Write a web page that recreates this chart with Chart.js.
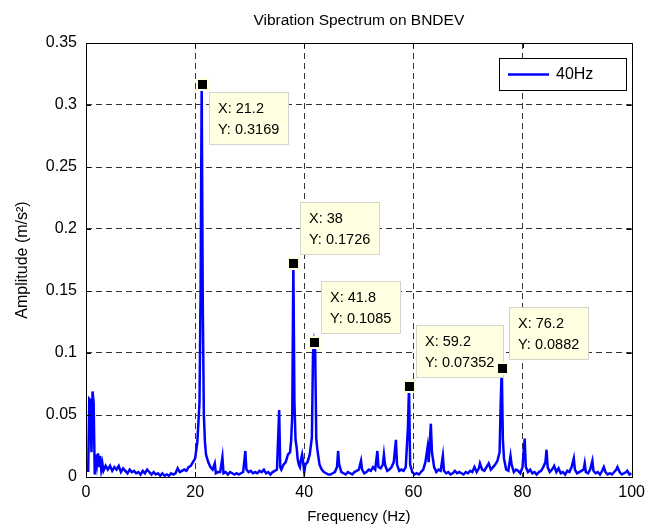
<!DOCTYPE html>
<html>
<head>
<meta charset="utf-8">
<script src="https://cdn.jsdelivr.net/npm/chart.js@4/dist/chart.umd.min.js"></script>
<style>
  body { margin: 0; background: #fff; }
  #wrap { width: 651px; height: 528px; }
</style>
</head>
<body>
<div id="wrap"><canvas id="spec" width="651" height="528"></canvas></div>
<script>
'use strict'

// spectrum (Hz, m/s^2)
var freq = [0.4, 0.6, 0.8, 1.0, 1.2, 1.4, 1.6, 1.8, 2.0, 2.2, 2.4, 2.6, 2.8, 3.0, 3.2, 3.6, 4.0, 4.4, 4.8, 5.2,
  5.6, 6.0, 6.4, 6.8, 7.2, 7.6, 8.0, 8.4, 8.8, 9.2, 9.6, 10.0, 10.4, 10.8, 11.2, 11.6, 12.0, 12.4, 12.8, 13.2,
  13.6, 14.0, 14.4, 14.8, 15.2, 15.6, 16.0, 16.4, 16.8, 17.2, 17.6, 18.0, 18.4, 18.8, 19.2, 19.6, 20.0, 20.4, 20.8, 21.0,
  21.2, 21.4, 21.6, 21.8, 22.0, 22.4, 22.8, 23.2, 23.6, 23.8, 24.2, 24.6, 25.0, 25.2, 25.6, 26.0, 26.4, 26.8, 27.2, 27.6,
  28.0, 28.4, 28.8, 29.2, 29.4, 29.8, 30.2, 30.6, 31.0, 31.4, 31.8, 32.2, 32.6, 33.0, 33.4, 33.8, 34.2, 34.6, 35.0, 35.4,
  35.6, 35.8, 36.2, 36.6, 37.0, 37.4, 37.6, 37.8, 38.0, 38.2, 38.4, 38.6, 38.8, 39.0, 39.2, 39.4, 39.6, 39.8, 40.0, 40.2,
  40.6, 41.0, 41.4, 41.6, 41.8, 42.0, 42.2, 42.4, 42.8, 43.2, 43.6, 44.0, 44.4, 44.8, 45.2, 45.6, 46.0, 46.2, 46.4, 46.8,
  47.2, 47.6, 48.0, 48.4, 48.8, 49.2, 49.6, 50.0, 50.4, 50.6, 51.0, 51.4, 51.8, 52.2, 52.6, 53.0, 53.4, 53.6, 54.0, 54.4,
  54.6, 54.8, 55.2, 55.6, 56.0, 56.4, 56.8, 57.0, 57.4, 57.8, 58.2, 58.6, 59.0, 59.2, 59.4, 59.8, 60.2, 60.6, 61.0, 61.4,
  61.8, 62.2, 62.6, 62.8, 63.2, 63.4, 63.8, 64.2, 64.6, 65.0, 65.4, 65.6, 66.0, 66.4, 66.8, 67.2, 67.6, 68.0, 68.4, 68.8,
  69.2, 69.6, 70.0, 70.4, 70.8, 71.2, 71.6, 72.0, 72.2, 72.6, 73.0, 73.4, 73.8, 74.2, 74.6, 75.0, 75.4, 75.8, 76.0, 76.2,
  76.4, 76.6, 77.0, 77.4, 77.8, 78.0, 78.4, 78.8, 79.2, 79.6, 80.0, 80.2, 80.4, 80.6, 81.0, 81.4, 81.8, 82.2, 82.6, 83.0,
  83.4, 83.8, 84.2, 84.4, 84.6, 85.0, 85.4, 85.8, 86.2, 86.6, 87.0, 87.4, 87.8, 88.2, 88.6, 89.0, 89.4, 89.6, 90.0, 90.4,
  90.8, 91.2, 91.4, 91.6, 92.0, 92.4, 92.8, 93.0, 93.4, 93.8, 94.2, 94.6, 94.9, 95.2, 95.6, 96.0, 96.4, 96.8, 97.2, 97.4,
  97.8, 98.2, 98.6, 99.0, 99.2, 99.6, 100.0]
var amp = [0.004, 0.063, 0.062, 0.020, 0.069, 0.060, 0.002, 0.018, 0.010, 0.019, 0.008, 0.017, 0.006, 0.011, 0.005, 0.009, 0.006, 0.009, 0.005, 0.008,
  0.006, 0.009, 0.004, 0.007, 0.005, 0.003, 0.006, 0.004, 0.005, 0.003, 0.004, 0.002, 0.005, 0.003, 0.006, 0.004, 0.002, 0.004, 0.002, 0.003,
  0.001, 0.003, 0.001, 0.002, 0.001, 0.003, 0.002, 0.003, 0.007, 0.004, 0.005, 0.006, 0.005, 0.008, 0.009, 0.012, 0.015, 0.028, 0.060, 0.150,
  0.3169, 0.140, 0.050, 0.028, 0.018, 0.012, 0.008, 0.006, 0.011, 0.003, 0.004, 0.004, 0.016, 0.003, 0.004, 0.002, 0.004, 0.003, 0.002, 0.003,
  0.002, 0.003, 0.004, 0.021, 0.006, 0.004, 0.005, 0.003, 0.004, 0.003, 0.005, 0.004, 0.006, 0.003, 0.004, 0.002, 0.004, 0.005, 0.006, 0.054,
  0.008, 0.006, 0.010, 0.012, 0.018, 0.020, 0.030, 0.050, 0.1726, 0.060, 0.030, 0.024, 0.014, 0.010, 0.008, 0.014, 0.018, 0.012, 0.004, 0.010,
  0.012, 0.018, 0.032, 0.100, 0.1085, 0.102, 0.031, 0.022, 0.010, 0.006, 0.004, 0.003, 0.002, 0.002, 0.003, 0.004, 0.008, 0.021, 0.010, 0.004,
  0.003, 0.002, 0.004, 0.003, 0.002, 0.004, 0.005, 0.006, 0.013, 0.006, 0.003, 0.004, 0.006, 0.005, 0.008, 0.006, 0.021, 0.008, 0.007, 0.010,
  0.018, 0.010, 0.005, 0.006, 0.008, 0.012, 0.030, 0.010, 0.005, 0.006, 0.005, 0.008, 0.040, 0.07352, 0.010, 0.004, 0.002, 0.003, 0.002, 0.004,
  0.006, 0.012, 0.024, 0.012, 0.043, 0.020, 0.008, 0.004, 0.006, 0.005, 0.017, 0.005, 0.003, 0.004, 0.002, 0.003, 0.005, 0.003, 0.004, 0.003,
  0.002, 0.004, 0.003, 0.005, 0.004, 0.008, 0.004, 0.007, 0.011, 0.006, 0.005, 0.008, 0.011, 0.006, 0.008, 0.010, 0.013, 0.020, 0.060, 0.0882,
  0.030, 0.015, 0.006, 0.005, 0.017, 0.010, 0.004, 0.006, 0.005, 0.003, 0.008, 0.020, 0.031, 0.008, 0.004, 0.006, 0.003, 0.004, 0.002, 0.004,
  0.005, 0.008, 0.012, 0.022, 0.008, 0.004, 0.006, 0.009, 0.004, 0.007, 0.003, 0.004, 0.002, 0.005, 0.004, 0.008, 0.015, 0.006, 0.003, 0.004,
  0.005, 0.006, 0.011, 0.004, 0.003, 0.006, 0.013, 0.005, 0.003, 0.004, 0.002, 0.005, 0.008, 0.004, 0.002, 0.003, 0.002, 0.004, 0.006, 0.008,
  0.004, 0.002, 0.003, 0.004, 0.005, 0.002, 0.003]

var seriesLabel = '40Hz'
var chartTitle = 'Vibration Spectrum on BNDEV'
var xTicks = [0, 20, 40, 60, 80, 100]
var yTicks = [0, 0.05, 0.1, 0.15, 0.2, 0.25, 0.3, 0.35]

// data tips shown on the peaks
var tipX = [21.2, 38, 41.8, 59.2, 76.2]
var tipY = [0.3169, 0.1726, 0.1085, 0.07352, 0.0882]
var tipText = [['X: 21.2', 'Y: 0.3169'], ['X: 38', 'Y: 0.1726'], ['X: 41.8', 'Y: 0.1085'], ['X: 59.2', 'Y: 0.07352'], ['X: 76.2', 'Y: 0.0882']]
var tipBelow = [true, false, false, false, false]

var FONT = "'Liberation Sans', Arial, sans-serif"

var points = []
for (var i = 0; i < freq.length; i++) {
    points.push({x: freq[i], y: amp[i]})
}

// title, box, inner ticks, legend and data tips in the matlab look
var matlabDecor = {
    id: 'matlabDecor',
    afterDatasetsDraw: function(chart) {
        var ctx = chart.ctx
        var a = chart.chartArea
        var xs = chart.scales.x, ys = chart.scales.y
        ctx.save()

        // title centred over the axes
        ctx.fillStyle = '#000'
        ctx.font = '15.5px ' + FONT
        ctx.textAlign = 'center'
        ctx.textBaseline = 'middle'
        ctx.fillText(chartTitle, (a.left + a.right) / 2, 21)

        // tick marks pointing inward on all four sides
        ctx.strokeStyle = '#000'
        ctx.lineWidth = 1
        ctx.beginPath()
        xTicks.forEach(function(v) {
            var px = Math.round(xs.getPixelForValue(v)) + 0.5
            ctx.moveTo(px, a.bottom); ctx.lineTo(px, a.bottom - 5)
            ctx.moveTo(px, a.top); ctx.lineTo(px, a.top + 5)
        })
        yTicks.forEach(function(v) {
            var py = Math.round(ys.getPixelForValue(v)) + 0.5
            ctx.moveTo(a.left, py); ctx.lineTo(a.left + 5, py)
            ctx.moveTo(a.right, py); ctx.lineTo(a.right - 5, py)
        })
        ctx.stroke()
        ctx.strokeRect(Math.round(a.left) + 0.5, Math.round(a.top) + 0.5, Math.round(a.right - a.left), Math.round(a.bottom - a.top))

        // legend box, top right inside the axes
        var lw = 127, lh = 32
        var lx = Math.round(a.right) - 6 - lw, ly = Math.round(a.top) + 15
        ctx.fillStyle = '#fff'
        ctx.fillRect(lx, ly, lw, lh)
        ctx.strokeRect(lx + 0.5, ly + 0.5, lw, lh)
        ctx.strokeStyle = '#0000ff'
        ctx.lineWidth = 2.5
        ctx.beginPath()
        ctx.moveTo(lx + 9, ly + lh / 2 + 0.5)
        ctx.lineTo(lx + 50, ly + lh / 2 + 0.5)
        ctx.stroke()
        ctx.fillStyle = '#000'
        ctx.font = '16px ' + FONT
        ctx.textBaseline = 'middle'
        ctx.textAlign = 'left'
        ctx.fillText(chart.data.datasets[0].label, lx + 57, ly + lh / 2 + 1)

        // data tips
        ctx.font = '14.5px ' + FONT
        ctx.textBaseline = 'alphabetic'
        for (var k = 0; k < tipX.length; k++) {
            var px = xs.getPixelForValue(tipX[k])
            var py = ys.getPixelForValue(tipY[k])
            var tw = Math.max(ctx.measureText(tipText[k][0]).width, ctx.measureText(tipText[k][1]).width)
            var bw = Math.round(tw + 19), bh = 53
            var bx = Math.round(px) + 7
            var by = tipBelow[k] ? Math.round(py) + 8 : Math.round(py) - 8 - bh
            ctx.fillStyle = '#ffffe1'
            ctx.fillRect(bx, by, bw, bh)
            ctx.strokeStyle = '#d4d4c8'
            ctx.lineWidth = 1
            ctx.strokeRect(bx + 0.5, by + 0.5, bw - 1, bh - 1)
            ctx.fillStyle = '#000'
            ctx.fillText(tipText[k][0], bx + 9, by + 21)
            ctx.fillText(tipText[k][1], bx + 9, by + 42)
            // marker
            ctx.fillStyle = '#ffffe1'
            ctx.fillRect(Math.round(px) - 6, Math.round(py) - 6, 13, 13)
            ctx.fillStyle = '#000'
            ctx.fillRect(Math.round(px) - 4, Math.round(py) - 4, 9, 9)
        }
        ctx.restore()
    }
}

var ctx = document.getElementById('spec')
new Chart(ctx, {
    type: 'line',
    data: {
        datasets: [{
            label: seriesLabel,
            data: points,
            borderColor: '#0000ff',
            backgroundColor: 'transparent',
            borderWidth: 2.5,
            pointRadius: 0,
            tension: 0
        }]
    },
    options: {
        responsive: false,
        animation: false,
        events: [],
        layout: { padding: { left: 0, right: 15, top: 43, bottom: 0 } },
        plugins: {
            legend: { display: false },
            tooltip: { enabled: false },
            title: { display: false }
        },
        scales: {
            x: {
                type: 'linear',
                min: 0,
                max: 100,
                afterFit: function(s) { s.height = 51 },
                afterBuildTicks: function(s) { s.ticks = xTicks.map(function(v) { return {value: v} }) },
                ticks: { color: '#000', padding: 6, maxRotation: 0, font: { family: FONT, size: 16 } },
                grid: {
                    drawTicks: false,
                    color: function(c) { return (c.tick && (c.tick.value === 0 || c.tick.value === 100)) ? 'transparent' : '#333' },
                    lineWidth: 1
                },
                border: { display: false, dash: [6, 4] },
                title: { display: true, text: 'Frequency (Hz)', color: '#000', font: { family: FONT, size: 15 }, padding: { top: 0, bottom: 2 } }
            },
            y: {
                type: 'linear',
                min: 0,
                max: 0.35,
                afterFit: function(s) { s.width = 86 },
                afterBuildTicks: function(s) { s.ticks = yTicks.map(function(v) { return {value: v} }) },
                ticks: { color: '#000', padding: 9, font: { family: FONT, size: 16 }, callback: function(v) { return String(v) } },
                grid: {
                    drawTicks: false,
                    color: function(c) { return (c.tick && (c.tick.value === 0 || c.tick.value === 0.35)) ? 'transparent' : '#333' },
                    lineWidth: 1
                },
                border: { display: false, dash: [6, 4] },
                title: { display: true, text: 'Amplitude (m/s²)', color: '#000', font: { family: FONT, size: 16 }, padding: { top: 13, bottom: 0 } }
            }
        }
    },
    plugins: [matlabDecor]
})
</script>
</body>
</html>
